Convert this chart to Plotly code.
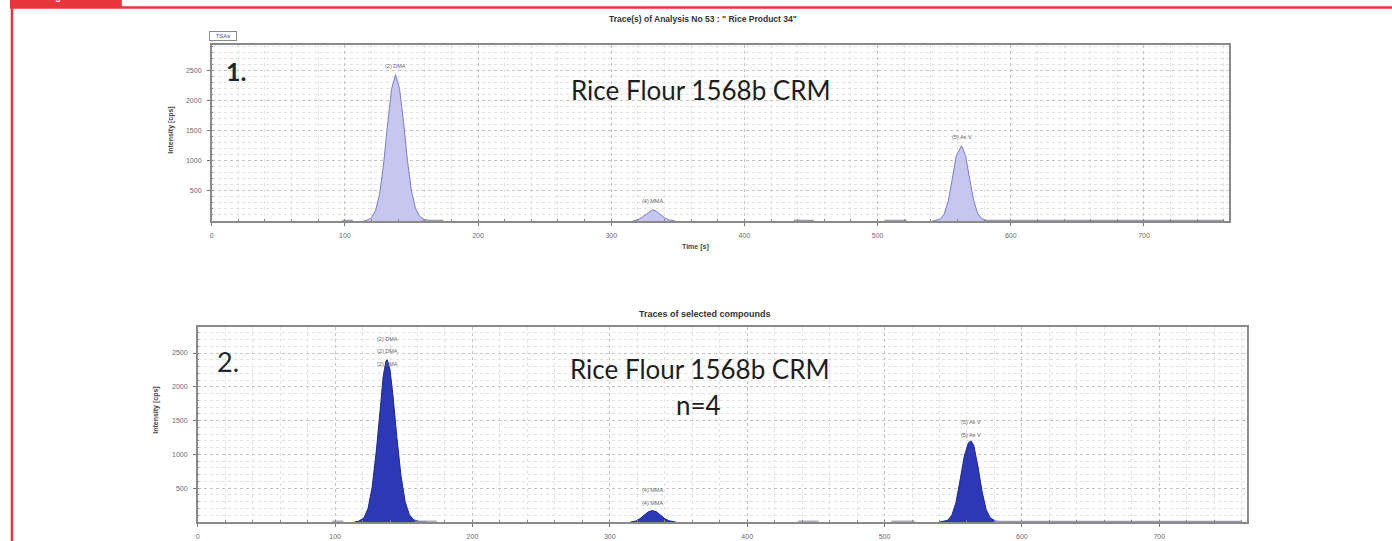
import plotly.graph_objects as go

# ---------------- data ----------------
# Panel 1: single analysis, "Rice Product 34"
top_dma_t = [114, 116, 120, 123, 126, 129, 132, 135, 138, 141, 144, 147, 150, 153, 156, 160, 166]
top_dma_i = [0, 8, 55, 170, 440, 930, 1590, 2180, 2430, 2200, 1650, 1000, 500, 210, 80, 20, 0]
top_mma_t = [316, 320, 323, 326, 329, 331, 334, 337, 340, 343, 348]
top_mma_i = [0, 20, 60, 110, 165, 185, 160, 105, 55, 20, 0]
top_asv_t = [541, 547, 550, 553, 556, 559, 563, 566, 569, 572, 575, 578, 582, 589]
top_asv_i = [0, 30, 116, 330, 690, 1080, 1250, 1090, 710, 350, 130, 40, 8, 0]

# Panel 2: overlay of n=4 replicate injections
bot_dma_t = [114, 117, 121, 124, 127, 130, 133, 135, 137, 138, 140, 142, 145, 148, 151, 154, 157, 161, 167]
bot_dma_i = [0, 10, 60, 200, 520, 1050, 1700, 2150, 2380, 2400, 2250, 1900, 1250, 680, 300, 110, 35, 8, 0]
bot_mma_t = [315, 319, 322, 325, 328, 331, 334, 337, 340, 343, 348]
bot_mma_i = [0, 15, 50, 100, 150, 170, 150, 100, 50, 18, 0]
bot_asv_t = [540, 546, 549, 552, 555, 558, 561, 563, 565, 568, 571, 574, 577, 581, 588]
bot_asv_i = [0, 25, 100, 290, 620, 970, 1170, 1200, 1130, 820, 450, 180, 60, 12, 0]

# low-level baseline signals of other compounds
base_t = [98, 106, None, 158, 174, None, 437, 452, None, 505, 522, None, 580, 760]
base_i = [12, 12, None, 12, 12, None, 12, 12, None, 12, 12, None, 10, 10]

top_labels = ["(2) DMA", "(4) MMA", "(5) As V"]
bot_labels = [["(2) DMA", "(2) DMA", "(2) DMA"], ["(4) MMA", "(4) MMA"], ["(5) As V", "(5) As V"]]

x_ticks = [0, 100, 200, 300, 400, 500, 600, 700]
y_ticks = [500, 1000, 1500, 2000, 2500]

# ---------------- layout helpers ----------------
W, H = 1392, 541


def px(x):
    return x / W


def py(y):
    return 1 - y / H


TOP_FILL, TOP_LINE = "#c6c6ef", "#7c7ccf"
BOT_FILL, BOT_LINE = "#2c38b6", "#1c2796"
TICKFONT = dict(family="Liberation Sans", size=7, color="#6a6a6a")


def axis(domain, rng, ticks, minor_dtick, anchor):
    return dict(
        domain=domain, range=rng, anchor=anchor,
        tickvals=ticks, ticktext=[str(v) for v in ticks],
        tickfont=TICKFONT, ticks="outside", ticklen=3, tickcolor="#777",
        ticklabelstandoff=4,
        showline=True, linecolor="#8a8a8a", linewidth=1.5, mirror=True,
        showgrid=True, gridcolor="#c4c4c4", griddash="dot", gridwidth=1,
        zeroline=False, fixedrange=True,
        minor=dict(dtick=minor_dtick, showgrid=True, gridcolor="#e2e2e2",
                   griddash="dot", ticks="inside", ticklen=2, tickcolor="#888"),
    )


fig = go.Figure()


def add_peak(t, i, xa, ya, fill, line):
    fig.add_trace(go.Scatter(x=t, y=i, mode="lines", fill="tozeroy",
                             fillcolor=fill, line=dict(color=line, width=1),
                             xaxis=xa, yaxis=ya, hoverinfo="x+y", showlegend=False))


for t, i in [(top_dma_t, top_dma_i), (top_mma_t, top_mma_i), (top_asv_t, top_asv_i)]:
    add_peak(t, i, "x", "y", TOP_FILL, TOP_LINE)
for t, i in [(bot_dma_t, bot_dma_i), (bot_mma_t, bot_mma_i), (bot_asv_t, bot_asv_i)]:
    add_peak(t, i, "x2", "y2", BOT_FILL, BOT_LINE)
for xa, ya in [("x", "y"), ("x2", "y2")]:
    fig.add_trace(go.Scatter(x=base_t, y=base_i, mode="lines", line=dict(color="#9a9aa8", width=1.2),
                             xaxis=xa, yaxis=ya, hoverinfo="skip", showlegend=False))

annotations = []
LABEL_FONT = dict(family="Liberation Sans", size=5.5, color="#666")

# peak labels, panel 1
for lab, t, i in zip(top_labels, [top_dma_t, top_mma_t, top_asv_t], [top_dma_i, top_mma_i, top_asv_i]):
    k = i.index(max(i))
    annotations.append(dict(x=t[k], y=i[k], xref="x", yref="y", text=lab, showarrow=False,
                            font=LABEL_FONT, yanchor="bottom", yshift=4))

# stacked peak labels, panel 2
for labs, t, i, base_shift in zip(bot_labels, [bot_dma_t, bot_mma_t, bot_asv_t],
                                  [bot_dma_i, bot_mma_i, bot_asv_i], [-9, 3, 1]):
    k = i.index(max(i))
    for n, lab in enumerate(labs):
        annotations.append(dict(x=t[k], y=i[k], xref="x2", yref="y2", text=lab, showarrow=False,
                                font=LABEL_FONT, yanchor="bottom", yshift=base_shift + 12.5 * n))


def note(x, y, text, font, **kw):
    d = dict(x=px(x), y=py(y), xref="paper", yref="paper", showarrow=False,
             xanchor="center", yanchor="middle", text=text, font=font)
    d.update(kw)
    annotations.append(d)


AX_FONT = dict(family="Liberation Sans", size=7, color="#444")
BIG = dict(family="Lato", size=26, color="#1e1e1e")
note(702, 19, "<b>Trace(s) of Analysis No 53 : \" Rice Product 34\"</b>",
     dict(family="Liberation Sans", size=8.5, color="#333"))
note(704, 314, "<b>Traces of selected compounds</b>", dict(family="Liberation Sans", size=9, color="#333"))
note(694, 247, "<b>Time [s]</b>", AX_FONT)
note(169, 130, "<b>Intensity [cps]</b>", AX_FONT, textangle=-90)
note(154, 410, "<b>Intensity [cps]</b>", AX_FONT, textangle=-90)
note(221, 36, "TSAs", dict(family="Liberation Sans", size=6, color="#4a55a8"),
     bordercolor="#8a8a8a", borderwidth=1, borderpad=1, bgcolor="white", width=24)
note(222, 71, "<b>1.</b>", dict(family="Lato", size=25, color="#1b2636"), xanchor="left")
note(700, 90, "Rice Flour 1568b CRM", BIG)
note(213, 361, "2.", dict(family="Lato", size=27, color="#1b2636"), xanchor="left")
note(699, 369, "Rice Flour 1568b CRM", BIG)
note(698, 405, "n=4", BIG)
note(64, 4, "<b>Figure 1</b>", dict(family="Liberation Sans", size=10, color="white"), yanchor="bottom")

RED = "#e8343b"
shapes = [
    dict(type="rect", xref="paper", yref="paper", x0=px(8), x1=px(120), y0=py(7), y1=py(-2),
         fillcolor=RED, line=dict(width=0), layer="below"),
    dict(type="line", xref="paper", yref="paper", x0=px(8), x1=px(1394), y0=py(7.5), y1=py(7.5),
         line=dict(color=RED, width=2.5)),
    dict(type="line", xref="paper", yref="paper", x0=px(10), x1=px(10), y0=py(7), y1=py(545),
         line=dict(color=RED, width=2.5)),
]

fig.update_layout(
    width=W, height=H, margin=dict(l=0, r=0, t=0, b=0),
    paper_bgcolor="white", plot_bgcolor="white", showlegend=False,
    xaxis=axis([px(210), px(1229)], [0, 764], x_ticks, 20, "y"),
    yaxis=axis([py(221), py(45)], [0, 2920], y_ticks, 100, "x"),
    xaxis2=axis([px(196), px(1247)], [0, 764], x_ticks, 20, "y2"),
    yaxis2=axis([py(522), py(327)], [0, 2885], y_ticks, 100, "x2"),
    annotations=annotations, shapes=shapes,
)

fig.write_html("out.html")
